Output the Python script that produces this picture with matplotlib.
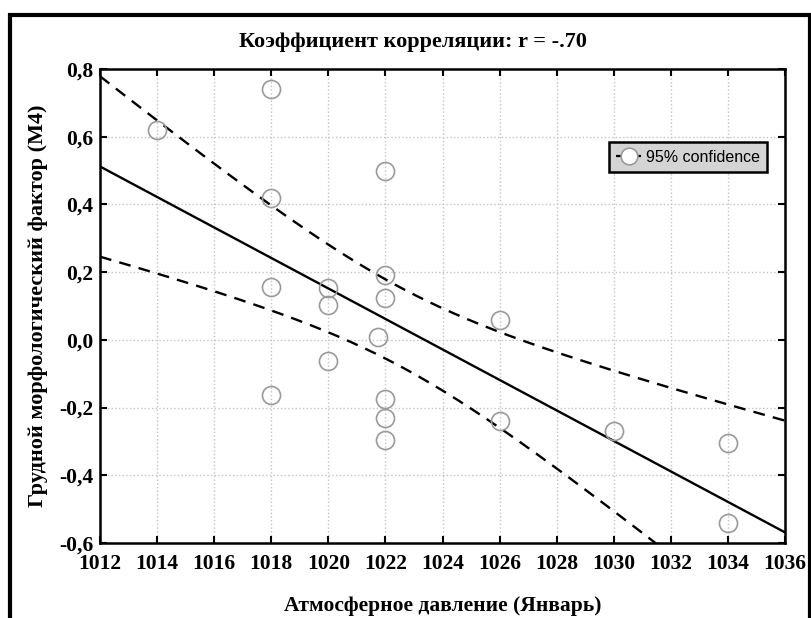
import matplotlib
matplotlib.use("Agg")
import matplotlib.pyplot as plt
import numpy as np
from matplotlib.patches import Rectangle
from matplotlib.lines import Line2D
from matplotlib.ticker import FuncFormatter, MultipleLocator

# pressure (January) vs chest morphological factor (M4)
pressure = [1014, 1018, 1018, 1018, 1018, 1020, 1020, 1020, 1021.75,
            1022, 1022, 1022, 1022, 1022, 1022, 1026, 1026, 1030, 1034, 1034]
factor_m4 = [0.62, 0.74, 0.42, 0.155, -0.163, 0.154, 0.104, -0.061, 0.008,
             0.50, 0.193, 0.123, -0.174, -0.232, -0.295, 0.060, -0.239,
             -0.269, -0.306, -0.541]

title = "Коэффициент корреляции: r = -.70"
xlabel = "Атмосферное давление (Январь)"
ylabel = "Грудной морфологический фактор (M4)"
legend_label = "95% confidence"
t_crit = 2.101  # t(0.975, n-2=18)

x = np.array(pressure)
y = np.array(factor_m4)
n = len(x)
b, a = np.polyfit(x, y, 1)
resid = y - (a + b * x)
s = np.sqrt(np.sum(resid ** 2) / (n - 2))
sxx = np.sum((x - x.mean()) ** 2)
xs = np.linspace(1012, 1036, 200)
fit = a + b * xs
half = t_crit * s * np.sqrt(1.0 / n + (xs - x.mean()) ** 2 / sxx)

serif = ["Liberation Serif", "DejaVu Serif"]
fig = plt.figure(figsize=(8.11, 6.18), dpi=100)
ax = fig.add_axes([100 / 811, 1 - 543 / 618, 685 / 811, 474 / 618])

ax.plot(xs, fit, color="black", lw=1.7, zorder=3)
ax.plot(xs, fit + half, color="black", lw=1.7, ls=(0, (5, 3.5)), zorder=3)
ax.plot(xs, fit - half, color="black", lw=1.7, ls=(0, (5, 3.5)), zorder=3)
ax.plot(x, y, "o", ms=13, mfc="none", mec="#9a9a9a", mew=1.2, zorder=4)

ax.set_xlim(1012, 1036)
ax.set_ylim(-0.6, 0.8)
ax.xaxis.set_major_locator(MultipleLocator(2))
ax.yaxis.set_major_locator(MultipleLocator(0.2))
ax.yaxis.set_major_formatter(FuncFormatter(lambda v, p: f"{v:.1f}".replace(".", ",").replace("-0,0", "0,0")))
ax.grid(True, color="#c4c4c4", ls=":", lw=1.0)
ax.tick_params(direction="in", top=True, right=True, length=5, width=1.5,
               labelsize=15.5)
ax.tick_params(axis="x", pad=8)
ax.tick_params(axis="y", pad=5)
for lab in ax.get_xticklabels() + ax.get_yticklabels():
    lab.set_family(serif)
    lab.set_fontweight("bold")
for sp in ax.spines.values():
    sp.set_linewidth(1.8)

ax.set_xlabel(xlabel, family=serif, fontweight="bold", fontsize=15.5, labelpad=16)
ax.set_ylabel(ylabel, family=serif, fontweight="bold", fontsize=16, labelpad=8)
fig.text(413 / 811, 1 - 42 / 618, title, family=serif, fontweight="bold",
         fontsize=16, ha="center", va="center")

handle = Line2D([], [], color="black", lw=1.6, ls=(0, (3, 2)), marker="o",
                ms=12, mfc="white", mec="#9a9a9a", mew=1.2)
leg = ax.legend([handle], [legend_label], loc="upper left",
                bbox_to_anchor=(0.731, 0.862), frameon=True, fancybox=False,
                handlelength=1.6, handletextpad=0.3, borderpad=0.45,
                prop={"family": ["Liberation Sans"], "size": 11.5})
leg.get_frame().set_facecolor("#d4d4d4")
leg.get_frame().set_edgecolor("black")
leg.get_frame().set_linewidth(1.8)
leg.get_frame().set_alpha(1)

fig.patches.append(Rectangle((9.5 / 811, -0.05), 800.5 / 811, 1.05 - 15 / 618,
                             transform=fig.transFigure, fill=False,
                             edgecolor="black", lw=3.0))

fig.savefig("out.png", dpi=100)
